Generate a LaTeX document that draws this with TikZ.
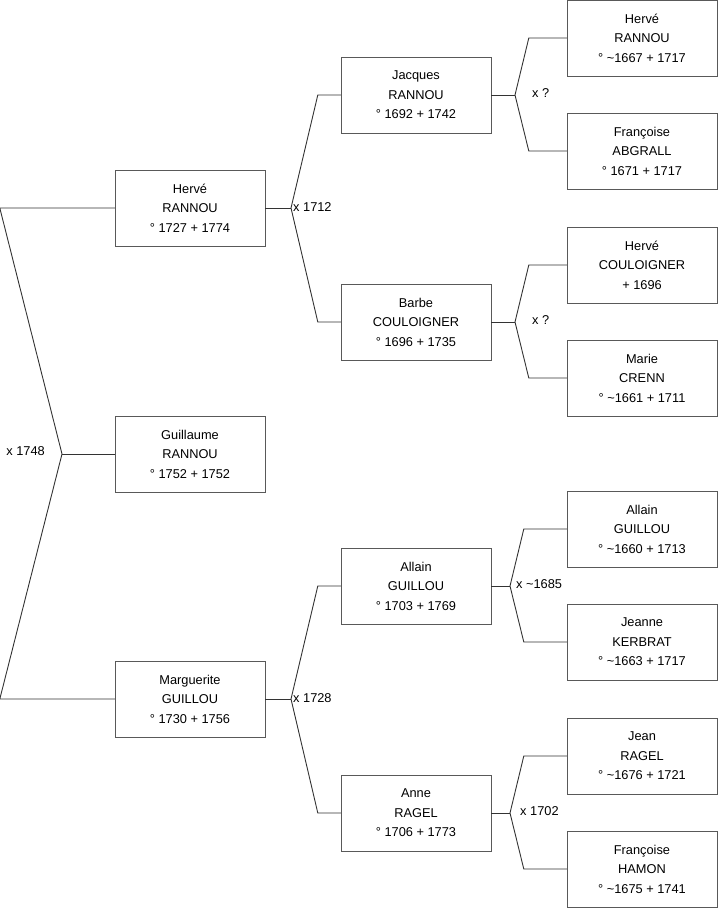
\documentclass[tikz,border=0pt]{standalone}
\usepackage{fontspec}
\setmainfont{Liberation Sans}
\tikzset{
  person/.style={draw=black!65, fill=white, minimum width=150pt, minimum height=76pt,
    inner sep=0pt, align=center, font=\fontsize{12.8}{19.5}\selectfont},
  link/.style={draw=black!80, line width=0.9pt},
  wed/.style={anchor=west, inner sep=0pt, font=\fontsize{12.8}{14}\selectfont}
}
\begin{document}
\begin{tikzpicture}[x=1pt, y=-1pt]
    \useasboundingbox (0,0) rectangle (719,908);
    % generation 0
    \node[person] (guillaume) at (190,454) {Guillaume\\RANNOU\\° 1752 + 1752};
    % parents
    \node[person] (herve) at (190,208) {Hervé\\RANNOU\\° 1727 + 1774};
    \node[person] (marguerite) at (190,699) {Marguerite\\GUILLOU\\° 1730 + 1756};
    % grandparents
    \node[person] (jacques) at (416,95) {Jacques\\RANNOU\\° 1692 + 1742};
    \node[person] (barbe) at (416,322) {Barbe\\COULOIGNER\\° 1696 + 1735};
    \node[person] (allain) at (416,586) {Allain\\GUILLOU\\° 1703 + 1769};
    \node[person] (anne) at (416,813) {Anne\\RAGEL\\° 1706 + 1773};
    % great-grandparents
    \node[person] (herveR) at (642,38) {Hervé\\RANNOU\\° \textasciitilde1667 + 1717};
    \node[person] (francoiseA) at (642,151) {Françoise\\ABGRALL\\° 1671 + 1717};
    \node[person] (herveC) at (642,265) {Hervé\\COULOIGNER\\+ 1696};
    \node[person] (marie) at (642,378) {Marie\\CRENN\\° \textasciitilde1661 + 1711};
    \node[person] (allainG) at (642,529) {Allain\\GUILLOU\\° \textasciitilde1660 + 1713};
    \node[person] (jeanne) at (642,642) {Jeanne\\KERBRAT\\° \textasciitilde1663 + 1717};
    \node[person] (jean) at (642,756) {Jean\\RAGEL\\° \textasciitilde1676 + 1721};
    \node[person] (francoiseH) at (642,869) {Françoise\\HAMON\\° \textasciitilde1675 + 1741};
    % marriage points
    \coordinate (w0) at (62,454);
    \coordinate (w1) at (291,208); \coordinate (w2) at (291,699);
    \coordinate (w3) at (515,95); \coordinate (w4) at (515,322);
    \coordinate (w5) at (510,586); \coordinate (w6) at (510,813);
    % links
    \draw[link] (herve.west) -- ([xshift=-115pt]herve.west) -- (w0)
      -- ([xshift=-115pt]marguerite.west) -- (marguerite.west);
    \draw[link] (w0) -- (guillaume.west);
    \draw[link] (herve.east) -- (w1);
    \draw[link] (jacques.west) -- ([xshift=-23pt]jacques.west) -- (w1)
      -- ([xshift=-23pt]barbe.west) -- (barbe.west);
    \draw[link] (marguerite.east) -- (w2);
    \draw[link] (allain.west) -- ([xshift=-23pt]allain.west) -- (w2)
      -- ([xshift=-23pt]anne.west) -- (anne.west);
    \draw[link] (jacques.east) -- (w3);
    \draw[link] (herveR.west) -- ([xshift=-38pt]herveR.west) -- (w3)
      -- ([xshift=-38pt]francoiseA.west) -- (francoiseA.west);
    \draw[link] (barbe.east) -- (w4);
    \draw[link] (herveC.west) -- ([xshift=-38pt]herveC.west) -- (w4)
      -- ([xshift=-38pt]marie.west) -- (marie.west);
    \draw[link] (allain.east) -- (w5);
    \draw[link] (allainG.west) -- ([xshift=-43pt]allainG.west) -- (w5)
      -- ([xshift=-43pt]jeanne.west) -- (jeanne.west);
    \draw[link] (anne.east) -- (w6);
    \draw[link] (jean.west) -- ([xshift=-43pt]jean.west) -- (w6)
      -- ([xshift=-43pt]francoiseH.west) -- (francoiseH.west);
    % marriage years
    \node[wed, anchor=east] (m0) at (45,451) {x 1748};
    \node[wed] (m1) at (293,207) {x 1712};
    \node[wed] (m2) at (293,698) {x 1728};
    \node[wed] (m3) at (532,93) {x ?};
    \node[wed] (m4) at (532,320) {x ?};
    \node[wed] (m5) at (516,584) {x \textasciitilde1685};
    \node[wed] (m6) at (520,811) {x 1702};
\end{tikzpicture}
\end{document}
